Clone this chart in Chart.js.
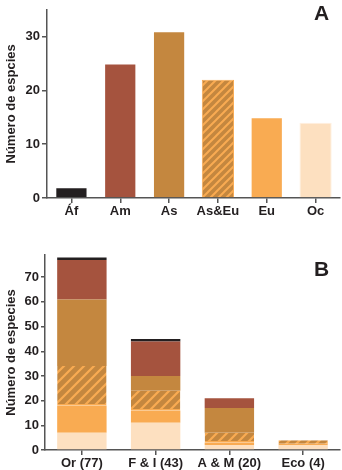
<!doctype html>
<html lang="en">
  <head>
    <meta charset="utf-8">
    <title>Número de especies</title>
    <script src="https://cdn.jsdelivr.net/npm/chart.js"></script>
    <style>
      body { margin: 0; background: #fff; font-family: "Liberation Sans", Arial, sans-serif; }
      .panel { position: absolute; left: 0; }
      .tag { position: absolute; font-weight: bold; font-size: 21px; color: #231f20; }
    </style>
  </head>
  <body>
    <div class="panel" style="top:0"><canvas id="chartA" width="342" height="220"></canvas></div>
    <div class="panel" style="top:220px"><canvas id="chartB" width="342" height="250"></canvas></div>
    <div class="tag" style="left:314px;top:1px">A</div>
    <div class="tag" style="left:314px;top:257px">B</div>

    <script>
      // panel A: species per region
      var regionsA = ["Áf", "Am", "As", "As&Eu", "Eu", "Oc"];
      var countsA = [2, 25, 31, 22, 15, 14];

      // panel B: stacked, bottom to top
      var groupsB = ["Or (77)", "F & I (43)", "A & M (20)", "Eco (4)"];
      var ocB = [7, 11, 2, 2];
      var euB = [11, 5, 1, 0];
      var asEuB = [16, 8, 4, 2];
      var asB = [27, 6, 10, 0];
      var amB = [16, 14, 4, 0];
      var afB = [1, 1, 0, 0];

      var BLACK = "#231f20", RED = "#a5533e", BROWN = "#c4873f", ORANGE = "#f9ab52", PALE = "#fde0c0";
      var AXIS = "#555555";

      function hatch(size, lw) {
        var c = document.createElement("canvas");
        c.width = size; c.height = size;
        var g = c.getContext("2d");
        g.fillStyle = BROWN;
        g.fillRect(0, 0, size, size);
        g.strokeStyle = ORANGE;
        g.lineWidth = lw;
        g.beginPath();
        g.moveTo(-1, size + 1); g.lineTo(size + 1, -1);
        g.moveTo(-size / 2, size / 2); g.lineTo(size / 2, -size / 2);
        g.moveTo(size / 2, size * 1.5); g.lineTo(size * 1.5, size / 2);
        g.stroke();
        return g.createPattern(c, "repeat");
      }

      Chart.defaults.font.family = '"Liberation Sans", Arial, sans-serif';
      Chart.defaults.font.weight = "bold";
      Chart.defaults.font.size = 13;
      Chart.defaults.color = BLACK;

      function onlyTens(scale) {
        scale.ticks = scale.ticks.filter(function (t) { return t.value % 10 === 0; });
      }

      function scales(yMax, yTitle, yWidth, xHeight, tick) {
        return {
          x: {
            stacked: true,
            border: { color: AXIS, width: 1.5 },
            grid: { drawOnChartArea: false, offset: false, color: AXIS, lineWidth: 1.5, tickLength: 5 },
            ticks: { padding: 1, color: BLACK },
            afterFit: function (s) { s.height = xHeight; }
          },
          y: {
            stacked: true,
            min: 0,
            max: yMax,
            border: { color: AXIS, width: 1.5 },
            grid: { drawOnChartArea: false, color: AXIS, lineWidth: 1.5, tickLength: tick },
            ticks: { stepSize: 10, padding: 2, color: BLACK },
            afterBuildTicks: onlyTens,
            title: { display: true, text: yTitle, color: BLACK, padding: { top: 4, bottom: 0 }, font: { size: 13, weight: "bold" } },
            afterFit: function (s) { s.width = yWidth; }
          }
        };
      }

      new Chart(document.getElementById("chartA").getContext("2d"), {
        type: "bar",
        data: {
          labels: regionsA,
          datasets: [{
            data: countsA,
            backgroundColor: [BLACK, RED, BROWN, hatch(8, 2), ORANGE, PALE],
            borderColor: ["rgba(0,0,0,0)", "rgba(0,0,0,0)", "rgba(0,0,0,0)", ORANGE, "rgba(0,0,0,0)", "#fff0e0"],
            borderWidth: 1,
            borderSkipped: "start",
            barPercentage: 0.66,
            categoryPercentage: 1
          }]
        },
        options: {
          responsive: false,
          animation: false,
          layout: { padding: { top: 5, right: 2, left: 0, bottom: 0 } },
          plugins: { legend: { display: false }, tooltip: { enabled: false } },
          scales: scales(35, "Número de espcies", 47, 22, 5)
        }
      });

      function layer(data, color, extra) {
        var d = { data: data, backgroundColor: color, borderWidth: 0, barPercentage: 0.67, categoryPercentage: 1 };
        for (var k in extra) d[k] = extra[k];
        return d;
      }

      new Chart(document.getElementById("chartB").getContext("2d"), {
        type: "bar",
        data: {
          labels: groupsB,
          datasets: [
            layer(ocB, PALE),
            layer(euB, ORANGE),
            layer(asEuB, hatch(10, 2.2), { borderColor: ORANGE, borderWidth: { top: 0, left: 0, right: 0, bottom: 1.5 }, borderSkipped: false }),
            layer(asB, BROWN),
            layer(amB, RED),
            layer(afB, BLACK)
          ]
        },
        options: {
          responsive: false,
          animation: false,
          layout: { padding: { top: 35, right: 2, left: 0, bottom: 0 } },
          plugins: { legend: { display: false }, tooltip: { enabled: false } },
          scales: scales(79, "Número de especies", 45, 20, 4)
        }
      });
    </script>
  </body>
</html>
